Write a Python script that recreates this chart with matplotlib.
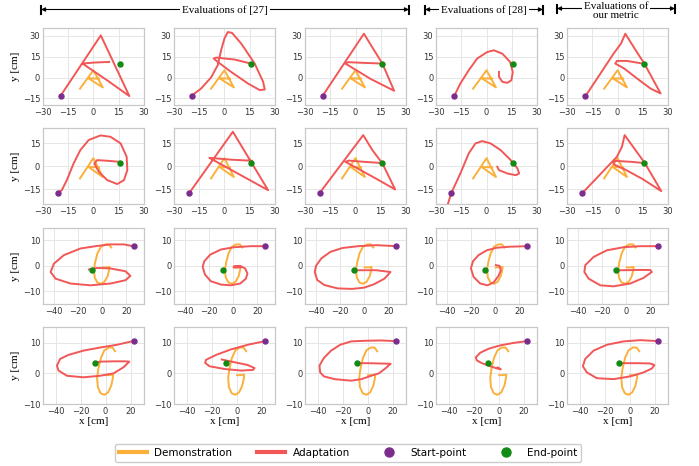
import matplotlib.pyplot as plt
from matplotlib.lines import Line2D

# demonstrations: letter A (rows 1-2) and letter G (rows 3-4)
demo_a = [(-8.0, -8.0), (0.0, 5.2), (5.6, -7.1), (-3.0, -0.5), (3.3, -0.8)]
demo_g = [(7.5, 7.2), (5.5, 8.4), (2.5, 8.4), (-1.0, 7.5), (-3.8, 5.0), (-5.8, 1.5),
          (-6.8, -1.5), (-6.2, -4.5), (-4.0, -6.5), (-1.0, -7.0), (2.0, -6.2),
          (4.5, -4.0), (5.8, -1.5), (6.0, -0.4), (3.5, -0.6), (0.3, -0.6)]

start_pts = [(-19.5, -13.0), (-21.2, -17.6), (26.0, 7.7), (22.3, 10.5)]
end_pts = [(16.0, 9.8), (16.0, 1.8), (-8.4, -1.7), (-8.6, 3.3)]

# adaptations, row 1
a11 = [(-19.5, -13.0), (4.4, 30.2), (21.4, -13.3), (8.2, -2.0), (-6.5, 10.0),
       (0.0, 10.7), (9.4, 11.2)]
a12 = [(-19.5, -13.0), (-14.0, -8.0), (-8.0, 0.0), (-4.0, 8.8), (-2.0, 19.5), (0.0, 28.0),
       (2.0, 32.6), (4.5, 32.0), (10.0, 24.3), (18.0, 10.0), (23.0, -3.0), (24.0, -8.6),
       (21.0, -9.0), (14.0, -4.3), (4.0, 4.0), (-4.0, 11.2), (-6.4, 13.6), (-5.0, 14.3),
       (6.0, 12.9), (16.4, 9.8)]
a13 = [(-19.5, -13.0), (5.0, 31.4), (16.0, 10.0), (23.0, -9.5), (9.0, -1.0),
       (-6.0, 10.0), (-4.5, 11.0), (5.0, 10.5), (16.0, 10.0)]
a14 = [(-19.2, -13.1), (-15.6, -4.3), (-10.6, 5.2), (-5.6, 13.6), (0.4, 18.3), (4.4, 19.5),
       (9.4, 17.1), (14.0, 11.2), (15.6, 4.0), (14.8, -1.9), (12.4, -3.8), (9.4, -3.1),
       (7.4, 0.5), (7.4, 4.0)]
a15 = [(-19.0, -13.1), (-2.4, 17.1), (2.0, 24.3), (4.6, 31.4), (10.0, 21.0), (16.0, 9.8),
       (25.6, -11.4), (19.6, -7.9), (11.6, -0.7), (4.0, 6.4), (-1.4, 10.0), (-0.4, 11.9),
       (5.6, 11.9), (16.0, 9.8)]

# adaptations, row 2
a21 = [(-21.4, -17.6), (-18.8, -15.7), (-15.8, -9.1), (-11.8, 1.7), (-7.8, 10.4),
       (-2.8, 17.0), (4.2, 20.0), (10.2, 19.1), (16.2, 14.8), (19.8, 6.1), (20.2, -2.6),
       (18.2, -9.1), (14.2, -11.7), (8.2, -9.1), (3.2, -3.7), (0.6, 1.7), (2.2, 3.9),
       (8.2, 3.5), (15.8, 2.8)]
a22 = [(-21.0, -17.6), (5.0, 22.4), (26.0, -15.7), (-9.0, 5.4), (4.0, 4.2), (16.4, 3.5)]
a23 = [(-21.4, -17.6), (4.6, 20.2), (10.0, 10.5), (16.0, 1.8), (23.6, -15.2), (12.0, -8.0),
       (2.0, -2.0), (-6.0, 2.8), (-4.0, 3.6), (5.0, 2.8), (16.0, 2.0)]
a24 = [(-24.5, -30.0), (-21.0, -17.6), (-15.6, -4.8), (-10.6, 8.3), (-6.6, 14.8),
       (-2.6, 16.3), (2.4, 14.8), (8.4, 10.4), (14.4, 3.9), (18.4, -1.5), (19.4, -4.8),
       (17.4, -5.9), (12.4, -4.8), (7.4, -2.6), (6.4, -0.4)]
a25 = [(-21.0, -17.6), (-0.4, 6.1), (2.6, 12.6), (4.2, 20.2), (16.2, 2.0), (26.0, -16.3),
       (15.0, -8.5), (5.0, -2.5), (-2.0, 1.0), (-2.6, 2.6), (-1.0, 3.4), (8.0, 2.8),
       (16.2, 2.0)]

# adaptations, row 3
a31 = [(25.6, 7.7), (17.9, 8.4), (6.9, 8.4), (-4.1, 7.8), (-17.9, 6.8), (-31.7, 4.2),
       (-39.9, 0.9), (-42.7, -2.4), (-38.6, -5.0), (-26.2, -6.9), (-9.6, -7.6), (6.9, -6.9),
       (19.3, -5.6), (23.4, -3.9), (19.3, -2.1), (6.9, -1.0), (-4.1, -0.8), (-11.0, -1.4)]
a32 = [(26.2, 7.7), (14.6, 7.7), (0.8, 7.3), (-10.2, 6.4), (-19.0, 4.4), (-24.0, 1.8),
       (-25.3, -0.4), (-23.4, -3.4), (-18.5, -6.0), (-10.2, -7.3), (-1.9, -7.6), (5.8, -6.9),
       (10.5, -5.0), (11.8, -3.0), (9.9, -1.0), (5.8, 0.0), (0.8, -0.1), (0.5, -0.6),
       (6.0, -0.6)]
a33 = [(26.3, 7.7), (10.0, 8.1), (-5.0, 7.7), (-18.0, 7.0), (-28.0, 5.5), (-35.6, 2.9),
       (-40.0, 0.0), (-41.0, -2.4), (-39.0, -5.5), (-33.0, -7.5), (-22.0, -8.8),
       (-10.0, -9.0), (0.0, -8.5), (8.0, -7.2), (16.7, -5.0), (21.7, -2.4), (10.0, -1.7),
       (0.0, -1.7), (-8.1, -1.7)]
a34 = [(26.1, 7.7), (12.3, 7.5), (1.3, 7.1), (-7.0, 6.1), (-13.9, 4.2), (-18.5, 1.8),
       (-20.2, -1.0), (-18.0, -4.3), (-12.5, -6.9), (-6.4, -7.6), (-1.5, -6.5), (2.7, -3.9),
       (4.6, -1.7), (3.5, 0.0), (0.5, 0.3)]
a35 = [(25.8, 7.7), (11.4, 7.7), (-2.3, 7.3), (-16.1, 6.1), (-27.1, 3.5), (-34.0, 0.3),
       (-34.8, -2.4), (-31.2, -5.0), (-21.6, -7.6), (-10.6, -8.0), (3.2, -6.9), (14.2, -4.7),
       (21.1, -2.4), (19.7, -1.6), (8.7, -1.6), (-2.3, -1.7), (-8.4, -1.7)]

# adaptations, row 4
a41 = [(21.9, 10.5), (9.1, 9.3), (-4.3, 8.4), (-17.6, 7.4), (-29.6, 6.0), (-36.3, 4.7),
       (-38.9, 2.5), (-37.6, 0.9), (-30.9, -0.8), (-17.6, -1.3), (-4.3, -0.8), (6.4, 0.0),
       (14.4, 2.0), (18.9, 3.8), (15.7, 3.9), (6.4, 3.9), (-4.3, 3.8), (-9.1, 3.4)]
a42 = [(22.8, 10.5), (8.9, 9.3), (-4.4, 7.8), (-16.4, 6.0), (-24.4, 4.4), (-25.2, 3.4),
       (-21.7, 2.3), (-9.7, 1.4), (3.6, 0.9), (13.0, 1.1), (14.3, 1.7), (8.9, 2.7),
       (-1.7, 3.6), (-11.9, 4.5)]
a43 = [(22.8, 10.5), (10.0, 10.7), (-2.0, 10.6), (-13.2, 10.4), (-22.0, 9.3), (-29.2, 7.4),
       (-35.0, 5.0), (-38.5, 2.5), (-38.0, 0.3), (-35.0, -1.0), (-26.5, -1.9), (-13.2, -2.4),
       (-5.0, -1.9), (2.8, -0.8), (9.0, 0.0), (13.5, 1.4), (18.3, 3.1), (10.0, 3.2),
       (0.0, 3.3), (-8.4, 3.3)]
a44 = [(22.5, 10.5), (11.9, 9.9), (1.2, 9.1), (-8.1, 8.0), (-14.8, 6.7), (-18.3, 5.2),
       (-17.5, 4.2), (-13.5, 3.3), (-6.8, 2.3), (-1.5, 1.6), (1.7, 1.3), (-0.8, 1.9)]
a45 = [(22.3, 10.5), (8.4, 10.8), (-4.9, 10.4), (-18.3, 9.3), (-28.9, 7.4), (-35.6, 4.7),
       (-37.5, 2.3), (-34.3, 0.3), (-26.3, -1.6), (-12.9, -1.9), (0.4, -1.0), (11.1, 0.3),
       (17.7, 1.6), (19.6, 2.7), (16.4, 3.2), (5.7, 3.3), (-8.4, 3.3)]

adapt_rows = [[a11, a12, a13, a14, a15],
              [a21, a22, a23, a24, a25],
              [a31, a32, a33, a34, a35],
              [a41, a42, a43, a44, a45]]
demos = [demo_a, demo_a, demo_g, demo_g]

xlims = [(-30, 30), (-30, 30), (-49, 34.5), (-50, 30.5)]
ylims = [(-19.5, 35.5), (-25, 25), (-15, 15), (-10, 15)]
xticks = [[-30, -15, 0, 15, 30], [-30, -15, 0, 15, 30], [-40, -20, 0, 20], [-40, -20, 0, 20]]
yticks = [[-15, 0, 15, 30], [-15, 0, 15], [-10, 0, 10], [-10, 0, 10]]

orange = '#fbb03b'
red = '#f25757'
purple = '#7b2d8e'
green = '#138a13'
serif = 'Liberation Serif'

fig, axes = plt.subplots(4, 5, figsize=(6.99, 4.66), dpi=100)
fig.subplots_adjust(left=43/699, right=668/699, top=1-28/466, bottom=1-404/466,
                    wspace=0.3, hspace=0.3)

for r in range(4):
    for c in range(5):
        ax = axes[r, c]
        dx, dy = zip(*demos[r])
        ax.plot(dx, dy, color=orange, lw=1.4, solid_joinstyle='round', zorder=2)
        rx, ry = zip(*adapt_rows[r][c])
        ax.plot(rx, ry, color=red, lw=1.4, solid_joinstyle='round', zorder=3)
        ax.plot(*start_pts[r], 'o', color=purple, ms=3.6, zorder=4)
        ax.plot(*end_pts[r], 'o', color=green, ms=3.6, zorder=4)
        ax.set_xlim(*xlims[r])
        ax.set_ylim(*ylims[r])
        ax.set_xticks(xticks[r])
        ax.set_yticks(yticks[r])
        ax.grid(True, color='#e6e6e6', lw=0.7)
        ax.set_axisbelow(True)
        for s in ax.spines.values():
            s.set_color('#c8c8c8')
            s.set_linewidth(0.9)
        ax.tick_params(length=0, pad=2, labelsize=6, labelcolor='#333333')
        if c == 0:
            ax.set_ylabel('y [cm]', family=serif, fontsize=8, labelpad=2)
        if r == 3:
            ax.set_xlabel('x [cm]', family=serif, fontsize=8, labelpad=1)

# header brackets, drawn in figure pixel space
hdr = fig.add_axes([0, 0, 1, 1])
hdr.set_xlim(0, 699)
hdr.set_ylim(466, 0)
hdr.axis('off')


def bracket(x0, x1, y, label, ty):
    xc = (x0 + x1) / 2
    for xe in (x0, x1):
        hdr.annotate('', xy=(xe, y), xytext=(xc, y),
                     arrowprops=dict(arrowstyle='-|>', color='k', lw=0.8,
                                     mutation_scale=6, shrinkA=0, shrinkB=0))
        hdr.plot([xe, xe], [y - 4, y + 4], color='k', lw=1.5)
    hdr.text(xc, ty, label, ha='center', va='center', fontsize=8, family=serif,
             linespacing=1.0, bbox=dict(fc='white', ec='none', pad=1.5))


bracket(41, 409, 9.5, 'Evaluations of [27]', 10)
bracket(425, 543, 9.5, 'Evaluations of [28]', 10)
bracket(557, 675, 8.5, 'Evaluations of\nour metric', 11)

handles = [Line2D([], [], color=orange, lw=3),
           Line2D([], [], color=red, lw=3),
           Line2D([], [], color=purple, ls='', marker='o', ms=6.5),
           Line2D([], [], color=green, ls='', marker='o', ms=6.5)]
labels = ['Demonstration', 'Adaptation', 'Start-point', 'End-point']
fig.legend(handles, labels, loc='center', bbox_to_anchor=(348/699, 1-453/466), ncol=4,
           fontsize=7.5, handlelength=2.7, columnspacing=2.4, handletextpad=0.7,
           borderpad=0.4, edgecolor='#cccccc', framealpha=1)

fig.savefig('out.png', dpi=100)
